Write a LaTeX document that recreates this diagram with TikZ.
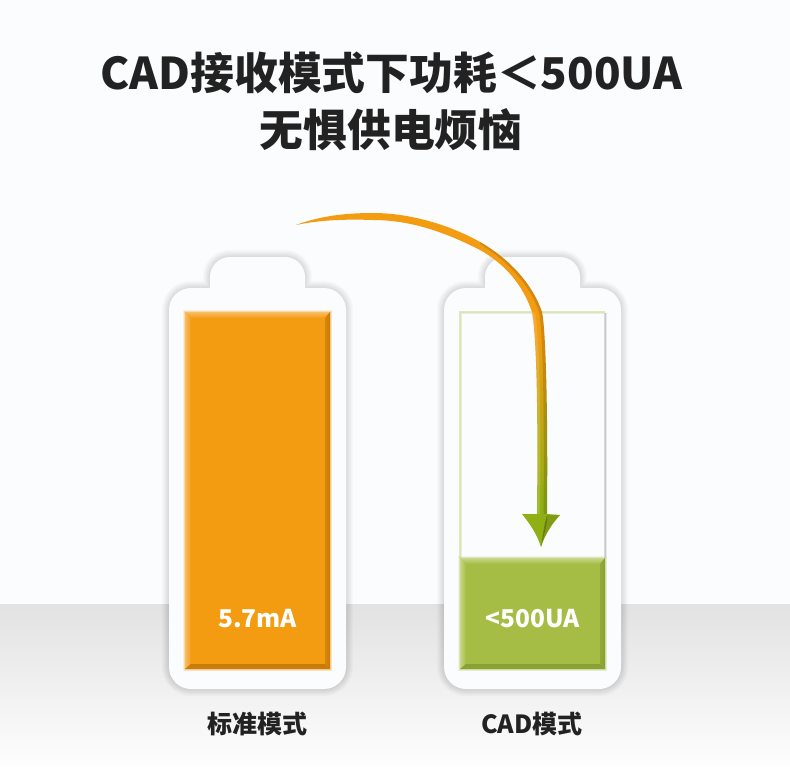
\documentclass[tikz,border=0pt]{standalone}
\usepackage{fontspec}
\setmainfont{Noto Sans CJK SC}
\definecolor{pagebg}{HTML}{FBFCFE}
\definecolor{floorbg}{HTML}{E2E2E2}
\definecolor{inktext}{HTML}{222222}
\definecolor{orangemain}{HTML}{F39C12}
\definecolor{orangelite}{HTML}{F8BE68}
\definecolor{orangedark}{HTML}{C67A08}
\definecolor{greenmain}{HTML}{A5BD45}
\definecolor{greenlite}{HTML}{C6D68A}
\definecolor{greendark}{HTML}{87A032}
\definecolor{greenedge}{HTML}{D5E0A8}
\definecolor{arrowgreen}{HTML}{8FAF14}
\pgfdeclareverticalshading{arrowfade}{100bp}{
  color(0bp)=(arrowgreen); color(31bp)=(arrowgreen); color(57bp)=(orangemain); color(100bp)=(orangemain)}

\tikzset{
  titletext/.style = {text=inktext, font=\fontsize{43.8}{44}\selectfont\bfseries, inner sep=0pt},
  captiontext/.style = {text=inktext, font=\fontsize{25}{25}\selectfont\bfseries, inner sep=0pt},
  valuetext/.style = {text=white, font=\fontsize{24.5}{24.5}\selectfont\bfseries, inner sep=0pt}
}

% outline of one battery, x is its left side
\newcommand{\batteryshape}[1]{
  (#1+41,288) -- (#1+41,277) arc (180:270:20) -- (#1+116,257) arc (270:360:20) -- (#1+136,288)
  -- (#1+155,288) arc (270:360:22) -- (#1+177,667) arc (0:90:22) -- (#1+22,689)
  arc (90:180:22) -- (#1,310) arc (180:270:22) -- cycle}

% filled level with bevelled edges
\newcommand{\batterylevel}[7]{
  \foreach \g in {1,...,4}
    \draw[#6, line width=\g pt, opacity=.22] (#1,#2) rectangle (#3,#4);
  \fill[#5] (#1,#2) rectangle (#3,#4);
  \shade[top color=#6, bottom color=#5] (#1,#2) -- (#3,#2) -- (#3-6,#2+6) -- (#1+6,#2+6) -- cycle;
  \shade[left color=#6, right color=#5] (#1,#2) -- (#1+6,#2+6) -- (#1+6,#4-5) -- (#1,#4) -- cycle;
  \shade[left color=#7!65!#5, right color=#7] (#3,#2) -- (#3-5,#2+6) -- (#3-5,#4-5) -- (#3,#4) -- cycle;
  \shade[top color=#7, bottom color=#7!85!#5] (#1,#4) -- (#1+6,#4-5) -- (#3-5,#4-5) -- (#3,#4) -- cycle;
}

\begin{document}
\begin{tikzpicture}[x=1pt,y=-1pt]

\useasboundingbox (0,0) rectangle (790,766);

% background
\fill[pagebg] (0,0) rectangle (790,604);
\shade[top color=floorbg, bottom color=white!95!floorbg] (0,604) rectangle (790,766);

% both batteries
\foreach \batx in {169,444}{
  \foreach \w in {1,...,8}
    \draw[black, opacity=.016, line width=1.8*\w pt, line join=round] \batteryshape{\batx};
  \fill[pagebg] \batteryshape{\batx};
}

% levels
\batterylevel{185}{312}{330}{669}{orangemain}{orangelite}{orangedark}
\foreach \g in {1,2,3}{
  \draw[greenedge, line width=\g pt, opacity=.45] (460,558) -- (460,312) -- (605,312);
  \draw[black, line width=\g pt, opacity=.07] (605,313) -- (605,558);
}
\batterylevel{460}{558}{605}{669}{greenmain}{greenlite}{greendark}

% curved arrow
\shade[shading=arrowfade]
  (296,225) .. controls (320,216) and (345,213) .. (373,213)
  .. controls (410,213) and (450,225) .. (480,242)
  .. controls (510,259) and (533,285) .. (542,312)
  .. controls (546,330) and (548,420) .. (547,514)
  -- (560,515) .. controls (552,524) and (545,534) .. (541,547)
  .. controls (537,534) and (530,524) .. (522,514)
  -- (537,514) .. controls (538,420) and (537,340) .. (532,312)
  .. controls (523,285) and (505,264) .. (480,250)
  .. controls (445,232) and (410,220) .. (373,220)
  .. controls (345,219) and (320,220) .. (296,225) -- cycle;
% shine and dark side on the arrow
\fill[black, opacity=.13]
  (480,242) .. controls (510,259) and (533,285) .. (542,312)
  .. controls (546,330) and (548,420) .. (547,514) -- (543.5,514)
  .. controls (544.5,420) and (543,330) .. (539,312)
  .. controls (530,285) and (508,261) .. (480,244) -- cycle;
\fill[white, opacity=.14]
  (537,514) .. controls (538,420) and (537,340) .. (532,312) -- (535,312)
  .. controls (540,340) and (541,420) .. (540,514) -- cycle;
\fill[black, opacity=.22] (541,547) .. controls (543,534) and (544,524) .. (547,515)
  .. controls (548,522) and (544,534) .. (541,547) -- cycle;
\fill[black, opacity=.1] (541,547) .. controls (545,534) and (552,524) .. (560,515) -- (547,515) -- cycle;

% texts
\node[titletext] (titleone) at (391.5,73) {CAD接收模式下功耗＜500UA};
\node[titletext] (titletwo) at (391,130) {无惧供电烦恼};
\node[valuetext] (valueleft) at (257.5,619) {5.7mA};
\node[valuetext] (valueright) at (532.5,619) {<500UA};
\node[captiontext] (captionleft) at (257,724) {标准模式};
\node[captiontext] (captionright) at (532,724) {CAD模式};

\end{tikzpicture}
\end{document}
